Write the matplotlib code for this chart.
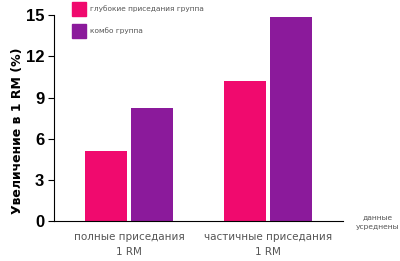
import numpy as np
import matplotlib
matplotlib.use('Agg')
import matplotlib.pyplot as plt

plt.rcParams['font.family'] = ['DejaVu Sans']

categories = ['полные приседания\n1 RM', 'частичные приседания\n1 RM']
deep_group = [5.1, 10.2]
combo_group = [8.2, 14.9]
series_names = ['глубокие приседания группа', 'комбо группа']
yticks = [0, 3, 6, 9, 12, 15]

pink = '#F00A6E'
purple = '#8B1A9B'

fig = plt.figure(figsize=(4, 2.61), dpi=100)
ax = fig.add_axes([0.135, 0.153, 0.7225, 0.789])

x = np.arange(len(categories))
w = 0.30
gap = 0.015
ax.bar(x - w / 2 - gap, deep_group, w, color=pink)
ax.bar(x + w / 2 + gap, combo_group, w, color=purple)

ax.set_xlim(-0.54, 1.54)
ax.set_ylim(0, 15)
ax.set_yticks(yticks)
ax.set_yticklabels([str(t) for t in yticks],
                   fontsize=12, fontweight='bold',
                   family=['Liberation Sans Narrow', 'Liberation Sans', 'DejaVu Sans'])
ax.set_xticks(x)
ax.set_xticklabels(categories, fontsize=7.5, color='#555555', linespacing=1.6)
ax.tick_params(axis='x', length=0, pad=8)
ax.tick_params(axis='y', length=4, width=0.8, pad=3)

for s in ['top', 'right']:
    ax.spines[s].set_visible(False)
ax.spines['left'].set_linewidth(0.8)
ax.spines['bottom'].set_linewidth(0.8)

fig.text(0.045, 0.50, 'Увеличение в 1 RM (%)', rotation=90, ha='center',
         va='center', fontsize=9, fontweight='bold')

# legend squares drawn by hand in figure coords
for i, (name, c) in enumerate(zip(series_names, [pink, purple])):
    yy = 1 - (9 + 22 * i) / 261
    fig.patches.append(plt.Rectangle((0.18, yy - 0.025), 0.035, 0.05,
                                     transform=fig.transFigure, color=c))
    fig.text(0.225, yy, name, fontsize=5.3, color='#555555', va='center')

fig.text(0.945, 0.15, 'данные\nусреднены', fontsize=5.4, color='#555555',
         ha='center', va='center', linespacing=1.7)

fig.savefig('out.png', dpi=100)
